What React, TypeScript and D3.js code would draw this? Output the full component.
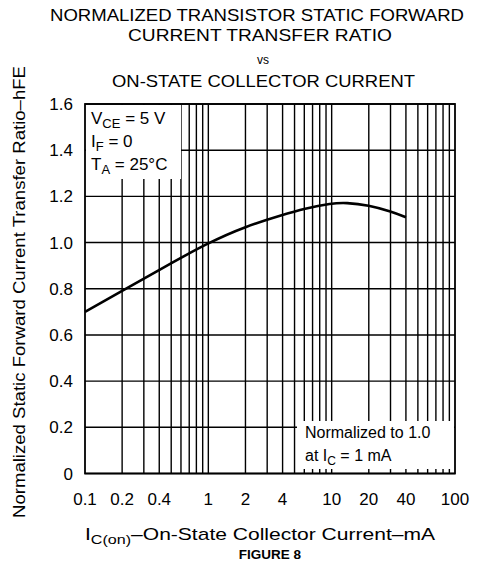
import * as d3 from "d3"

const currentMA = [0.1, 0.2, 0.4, 1, 2, 4, 6, 10, 13, 20, 30, 40]
const hfeNorm = [0.7, 0.79, 0.882, 1.0, 1.07, 1.12, 1.147, 1.17, 1.173, 1.162, 1.135, 1.11]
const xTickLabels = ["0.1", "0.2", "0.4", "1", "2", "4", "10", "20", "40", "100"]
const yTickLabels = ["0", "0.2", "0.4", "0.6", "0.8", "1.0", "1.2", "1.4", "1.6"]
const titleLines = ["NORMALIZED TRANSISTOR STATIC FORWARD", "CURRENT TRANSFER RATIO"]

const W = 487
const H = 565
const left = 85
const right = 455
const top = 104
const bottom = 473.5
const font = "'Liberation Sans', Arial, Helvetica, sans-serif"

export default function App() {
  const x = d3.scaleLog().domain([0.1, 100]).range([left, right])
  const y = d3.scaleLinear().domain([0, 1.6]).range([bottom, top])

  // vertical grid: 1..9 in each decade
  const xGrid: number[] = []
  ;[0.1, 1, 10].forEach((dec) => {
    for (let k = 2; k <= 9; k++) xGrid.push(dec * k)
  })
  xGrid.push(1, 10)

  const line = d3
    .line<number>()
    .x((_, i) => x(currentMA[i]))
    .y((d) => y(d))
    .curve(d3.curveBasis)

  return (
    <svg
      width={W}
      height={H}
      style={{ position: "absolute", left: 0, top: 0, background: "white" }}
      fontFamily={font}
    >
      <rect width={W} height={H} fill="white" />
      {/* title */}
      <text x={257} y={21} textAnchor="middle" fontSize={16.5} textLength={414} lengthAdjust="spacingAndGlyphs">
        {titleLines[0]}
      </text>
      <text x={260} y={41} textAnchor="middle" fontSize={16.5} textLength={264} lengthAdjust="spacingAndGlyphs">
        {titleLines[1]}
      </text>
      <text x={263} y={64} textAnchor="middle" fontSize={12}>
        vs
      </text>
      <text x={263.5} y={87} textAnchor="middle" fontSize={16.5} textLength={303} lengthAdjust="spacingAndGlyphs">
        ON-STATE COLLECTOR CURRENT
      </text>

      {/* grid */}
      <g stroke="black" strokeWidth={1.4}>
        {xGrid.map((v) => (
          <line key={"x" + v} x1={x(v)} x2={x(v)} y1={top} y2={bottom} />
        ))}
        {yTickLabels.map((t) => (
          <line key={"y" + t} x1={left} x2={right} y1={y(+t)} y2={y(+t)} />
        ))}
      </g>

      {/* boxes hiding grid */}
      <rect x={left + 1} y={top + 1} width={95} height={74} fill="white" />
      <rect x={297} y={421} width={right - 297 - 1} height={48} fill="white" />
      <rect x={left} y={top} width={right - left} height={bottom - top} fill="none" stroke="black" strokeWidth={1.8} />

      {/* curve */}
      <path d={line(hfeNorm) || ""} fill="none" stroke="black" strokeWidth={2.6} />

      {/* conditions */}
      <g fontSize={17}>
        <text x={91} y={124}>
          V<tspan fontSize={13} dy={4}>CE</tspan>
          <tspan dy={-4}> = 5 V</tspan>
        </text>
        <text x={91} y={147}>
          I<tspan fontSize={13} dy={4}>F</tspan>
          <tspan dy={-4}> = 0</tspan>
        </text>
        <text x={91} y={170}>
          T<tspan fontSize={13} dy={4}>A</tspan>
          <tspan dy={-4}> = 25°C</tspan>
        </text>
      </g>
      <g fontSize={16}>
        <text x={305} y={438}>Normalized to 1.0</text>
        <text x={305} y={461}>
          at I<tspan fontSize={12} dy={4}>C</tspan>
          <tspan dy={-4}> = 1 mA</tspan>
        </text>
      </g>

      {/* y tick labels */}
      <g fontSize={17} textAnchor="end">
        {yTickLabels.map((t) => (
          <text key={t} x={73} y={y(+t) + 6}>
            {t}
          </text>
        ))}
      </g>
      {/* x tick labels */}
      <g fontSize={17} textAnchor="middle">
        {xTickLabels.map((t) => (
          <text key={t} x={x(+t)} y={505}>
            {t}
          </text>
        ))}
      </g>

      {/* axis titles */}
      <text x={85} y={540} fontSize={17} textLength={350} lengthAdjust="spacingAndGlyphs">
        I<tspan fontSize={13} dy={4}>C(on)</tspan>
        <tspan dy={-4}>–On-State Collector Current–mA</tspan>
      </text>
      <text x={270} y={559} textAnchor="middle" fontSize={13.5} fontWeight="bold">
        FIGURE 8
      </text>
      <text
        transform="translate(25,292) rotate(-90)"
        textAnchor="middle"
        fontSize={16.5}
        textLength={452}
        lengthAdjust="spacingAndGlyphs"
      >
        Normalized Static Forward Current Transfer Ratio–hFE
      </text>
    </svg>
  )
}
